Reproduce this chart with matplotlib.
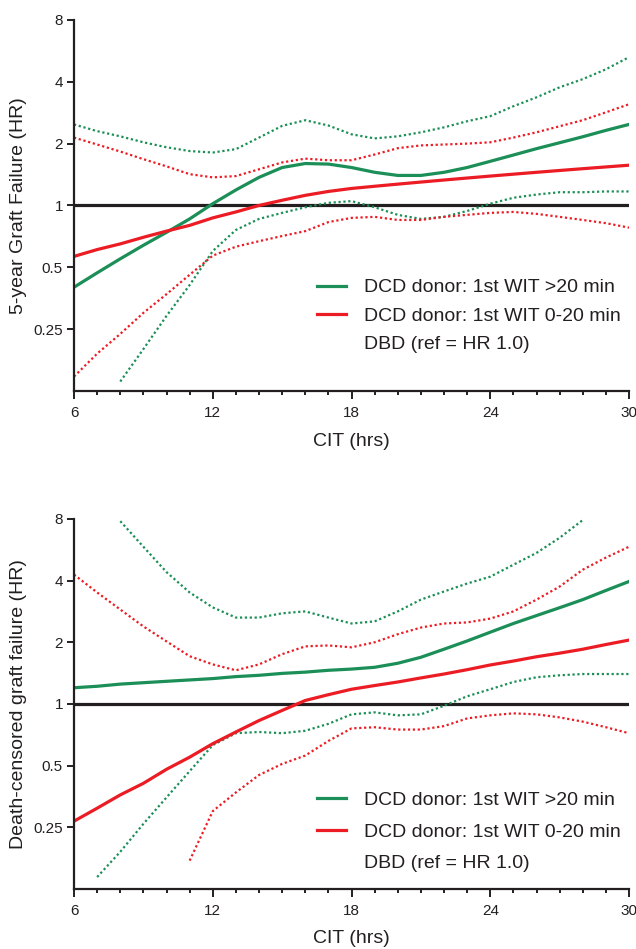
import numpy as np
import matplotlib
matplotlib.use("Agg")
import matplotlib.pyplot as plt
from matplotlib.lines import Line2D

plt.rcParams['font.family'] = ['Liberation Sans', 'DejaVu Sans']

nan = np.nan

# Cold ischaemic time (hrs)
hours = list(range(6, 31))

# Top panel: 5-year graft failure HR
top_wit_long = [0.40, 0.47, 0.55, 0.64, 0.74, 0.86, 1.02, 1.19, 1.37, 1.53, 1.60, 1.59, 1.53,
                1.45, 1.40, 1.40, 1.45, 1.53, 1.64, 1.76, 1.89, 2.02, 2.16, 2.32, 2.48]
top_wit_long_hi = [2.48, 2.30, 2.17, 2.03, 1.92, 1.84, 1.81, 1.88, 2.14, 2.44, 2.60, 2.45, 2.22,
                   2.12, 2.17, 2.27, 2.40, 2.57, 2.72, 3.04, 3.36, 3.76, 4.12, 4.60, 5.27]
top_wit_long_lo = [nan, nan, 0.139, 0.20, 0.29, 0.41, 0.60, 0.76, 0.86, 0.92, 0.98, 1.03, 1.05,
                   0.98, 0.90, 0.86, 0.88, 0.94, 1.02, 1.09, 1.13, 1.16, 1.16, 1.17, 1.17]
top_wit_short = [0.565, 0.61, 0.65, 0.70, 0.75, 0.80, 0.87, 0.93, 1.00, 1.06, 1.12, 1.17, 1.21,
                 1.24, 1.27, 1.30, 1.33, 1.36, 1.39, 1.42, 1.45, 1.48, 1.51, 1.54, 1.57]
top_wit_short_hi = [2.14, 1.98, 1.83, 1.68, 1.55, 1.42, 1.37, 1.39, 1.50, 1.62, 1.69, 1.66, 1.66,
                    1.77, 1.90, 1.96, 1.98, 2.00, 2.03, 2.14, 2.27, 2.43, 2.60, 2.84, 3.11]
top_wit_short_lo = [0.147, 0.19, 0.237, 0.30, 0.37, 0.46, 0.57, 0.63, 0.67, 0.71, 0.75, 0.83, 0.87,
                    0.88, 0.85, 0.85, 0.88, 0.90, 0.92, 0.93, 0.91, 0.88, 0.85, 0.82, 0.78]

# Bottom panel: death-censored graft failure HR
bot_wit_long = [1.20, 1.22, 1.25, 1.27, 1.29, 1.31, 1.33, 1.36, 1.38, 1.41, 1.43, 1.46, 1.48,
                1.51, 1.58, 1.69, 1.85, 2.03, 2.24, 2.47, 2.70, 2.95, 3.23, 3.58, 3.96]
bot_wit_long_hi = [nan, nan, 7.8, 5.85, 4.4, 3.5, 2.96, 2.64, 2.64, 2.77, 2.83, 2.64, 2.47,
                   2.53, 2.83, 3.23, 3.54, 3.87, 4.18, 4.78, 5.46, 6.47, 7.9, nan, nan]
bot_wit_long_lo = [nan, 0.143, 0.19, 0.26, 0.35, 0.47, 0.63, 0.72, 0.73, 0.72, 0.74, 0.80, 0.89,
                   0.91, 0.88, 0.89, 0.98, 1.09, 1.18, 1.28, 1.35, 1.38, 1.40, 1.40, 1.40]
bot_wit_short = [0.268, 0.31, 0.36, 0.41, 0.48, 0.55, 0.64, 0.73, 0.83, 0.93, 1.04, 1.11, 1.18,
                 1.23, 1.28, 1.34, 1.40, 1.47, 1.55, 1.62, 1.70, 1.77, 1.85, 1.95, 2.05]
bot_wit_short_hi = [4.28, 3.5, 2.89, 2.39, 2.02, 1.71, 1.56, 1.46, 1.56, 1.75, 1.91, 1.93, 1.89,
                    2.00, 2.19, 2.36, 2.47, 2.50, 2.61, 2.83, 3.23, 3.74, 4.52, 5.18, 5.85]
bot_wit_short_lo = [nan, nan, nan, nan, nan, 0.172, 0.30, 0.37, 0.45, 0.51, 0.56, 0.66, 0.76,
                    0.77, 0.75, 0.75, 0.78, 0.85, 0.88, 0.90, 0.89, 0.86, 0.82, 0.77, 0.72]

y_ticks = [0.25, 0.5, 1, 2, 4, 8]
y_tick_labels = ['0.25', '0.5', '1', '2', '4', '8']
x_ticks = [6, 12, 18, 24, 30]

legend_labels = ['DCD donor: 1st WIT >20 min', 'DCD donor: 1st WIT 0-20 min', 'DBD (ref = HR 1.0)']

GREEN = '#1b8f57'
RED = '#ec1c24'
INK = '#231f20'
DOT = (0, (1, 1.2))


def draw_panel(ax, long_mid, long_hi, long_lo, short_mid, short_hi, short_lo, ylabel, leg_y, leg_space):
    # DBD reference line
    ax.axhline(1, color=INK, lw=2.3, zorder=1)

    # confidence bands (dotted) then the HR curves
    ax.plot(hours, long_hi, color=GREEN, lw=1.6, ls=DOT)
    ax.plot(hours, long_lo, color=GREEN, lw=1.6, ls=DOT)
    ax.plot(hours, short_hi, color=RED, lw=1.6, ls=DOT)
    ax.plot(hours, short_lo, color=RED, lw=1.6, ls=DOT)
    ax.plot(hours, long_mid, color=GREEN, lw=2.3)
    ax.plot(hours, short_mid, color=RED, lw=2.3)

    ax.set_yscale('log', base=2)
    ax.set_ylim(0.125, 8)
    ax.set_xlim(6, 30)
    ax.set_yticks(y_ticks)
    ax.set_yticklabels(y_tick_labels)
    ax.yaxis.set_minor_locator(matplotlib.ticker.NullLocator())
    ax.set_xticks(x_ticks)
    ax.set_xticks(hours, minor=True)

    for side in ['top', 'right']:
        ax.spines[side].set_visible(False)
    for side in ['left', 'bottom']:
        ax.spines[side].set_linewidth(1.6)
        ax.spines[side].set_color(INK)

    ax.tick_params(axis='x', which='major', length=6, width=1.4, pad=5, labelsize=11, colors=INK)
    ax.tick_params(axis='x', which='minor', length=3, width=1.4, colors=INK)
    ax.tick_params(axis='y', which='major', length=5, width=1.4, pad=3, labelsize=11, colors=INK)

    ax.set_xlabel('CIT (hrs)', fontsize=14, color=INK, va='top')
    ax.xaxis.set_label_coords(0.5, -0.112)
    ax.set_ylabel(ylabel, fontsize=14, color=INK)
    ax.yaxis.set_label_coords(-0.085, 0.5)

    handles = [Line2D([], [], color=GREEN, lw=2.3),
               Line2D([], [], color=RED, lw=2.3),
               Line2D([], [], color='none')]
    ax.legend(handles, legend_labels, loc='center left', bbox_to_anchor=(0.438, leg_y),
              frameon=False, fontsize=14, handlelength=1.5, handletextpad=0.9,
              labelspacing=leg_space, borderpad=0, borderaxespad=0, labelcolor=INK)


fig = plt.figure(figsize=(6.36, 9.49), dpi=100)
ax_top = fig.add_axes([0.1164, 0.588, 0.8726, 0.391])
ax_bot = fig.add_axes([0.1164, 0.0632, 0.8726, 0.390])

draw_panel(ax_top, top_wit_long, top_wit_long_hi, top_wit_long_lo,
           top_wit_short, top_wit_short_hi, top_wit_short_lo,
           '5-year Graft Failure (HR)', 0.202, 0.56)
draw_panel(ax_bot, bot_wit_long, bot_wit_long_hi, bot_wit_long_lo,
           bot_wit_short, bot_wit_short_hi, bot_wit_short_lo,
           'Death-censored graft failure (HR)', 0.154, 0.72)

fig.savefig('out.png', dpi=100)
